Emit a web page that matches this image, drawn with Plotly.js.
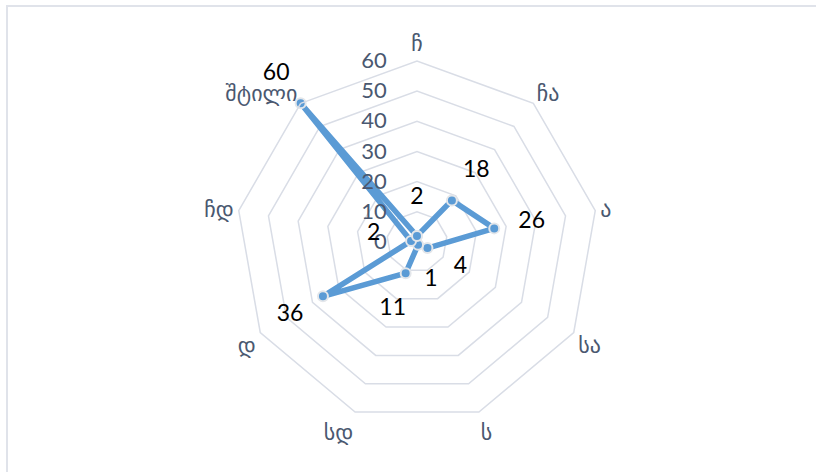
<!DOCTYPE html>
<html>
<head>
<meta charset="utf-8">
<script src="https://cdn.plot.ly/plotly-3.0.1.min.js"></script>
<style>html,body{margin:0;padding:0;background:#fff;}#chart{width:816px;height:472px;}</style>
</head>
<body>
<div id="chart"></div>
<script>
var categories = ["ჩ", "ჩა", "ა", "სა", "ს", "სდ", "დ", "ჩდ", "შტილი"];
var values = [2, 18, 26, 4, 1, 11, 36, 2, 60];
var radialTicks = [0, 10, 20, 30, 40, 50, 60];

var rMax = 60;          // outer ring of the chart
var labelRangeMax = 76; // radial range of the overlay used for value labels
var labelOffset = 12.6; // radial distance (in data units) from point to its label
var closedTheta = categories.concat([categories[0]]);
var closedR = values.concat([values[0]]);
var labelR = values.map(function (v) { return v + labelOffset; });

var textFont = "Lato, 'Open Sans', 'DejaVu Sans', sans-serif";
var axisColor = "#4a5870";
var gridColor = "#d9dde6";

var traces = [
  {
    type: "scatterpolar",
    subplot: "polar",
    r: closedR,
    theta: closedTheta,
    mode: "lines+markers",
    line: { color: "#5b9bd5", width: 5.5 },
    marker: { color: "#5b9bd5", size: 10, line: { color: "#e3e6ea", width: 2 } },
    hoverinfo: "skip",
    cliponaxis: false,
    showlegend: false
  },
  {
    type: "scatterpolar",
    subplot: "polar2",
    r: labelR,
    theta: categories,
    mode: "text",
    text: values.map(String),
    textposition: "middle center",
    textfont: { family: textFont, size: 23, color: "#000000" },
    hoverinfo: "skip",
    cliponaxis: false,
    showlegend: false
  }
];

var cx = 417, cy = 242, R = 181, W = 816, H = 472;
var R2 = R * labelRangeMax / rMax;
var layout = {
  width: W,
  height: H,
  margin: { l: 0, r: 0, t: 0, b: 0 },
  paper_bgcolor: "#ffffff",
  plot_bgcolor: "#ffffff",
  showlegend: false,
  font: { family: textFont, color: axisColor },
  polar: {
    domain: {
      x: [(cx - R) / W, (cx + R) / W],
      y: [(H - cy - R) / H, (H - cy + R) / H]
    },
    bgcolor: "#ffffff",
    gridshape: "linear",
    radialaxis: {
      range: [0, rMax],
      tickvals: radialTicks,
      ticktext: radialTicks.map(String),
      angle: 90,
      tickangle: 90,
      side: "counterclockwise",
      showline: false,
      ticks: "outside",
      ticklen: 22,
      tickcolor: "rgba(0,0,0,0)",
      showgrid: true,
      gridcolor: gridColor,
      gridwidth: 1.5,
      tickfont: { family: textFont, size: 22, color: axisColor }
    },
    angularaxis: {
      direction: "clockwise",
      rotation: 90,
      categoryorder: "array",
      categoryarray: categories,
      showgrid: false,
      showline: true,
      linecolor: gridColor,
      linewidth: 1.5,
      ticks: "",
      tickfont: { family: textFont, size: 22, color: axisColor }
    }
  },
  polar2: {
    domain: {
      x: [Math.max(0, (cx - R2) / W), Math.min(1, (cx + R2) / W)],
      y: [Math.max(0, (H - cy - R2) / H), Math.min(1, (H - cy + R2) / H)]
    },
    bgcolor: "rgba(0,0,0,0)",
    gridshape: "linear",
    radialaxis: { range: [0, labelRangeMax], visible: false, showgrid: false },
    angularaxis: {
      direction: "clockwise",
      rotation: 90,
      categoryorder: "array",
      categoryarray: categories,
      visible: false,
      showgrid: false,
      showline: false
    }
  },
  shapes: [
    { type: "line", xref: "paper", yref: "paper", x0: 6 / W, x1: 1, y0: 1 - 6 / H, y1: 1 - 6 / H, line: { color: "#e0e3ea", width: 2 } },
    { type: "line", xref: "paper", yref: "paper", x0: 7 / W, x1: 7 / W, y0: 0, y1: 1 - 6 / H, line: { color: "#e0e3ea", width: 2 } }
  ]
};

Plotly.newPlot("chart", traces, layout, { displayModeBar: false, staticPlot: true });
</script>
</body>
</html>
